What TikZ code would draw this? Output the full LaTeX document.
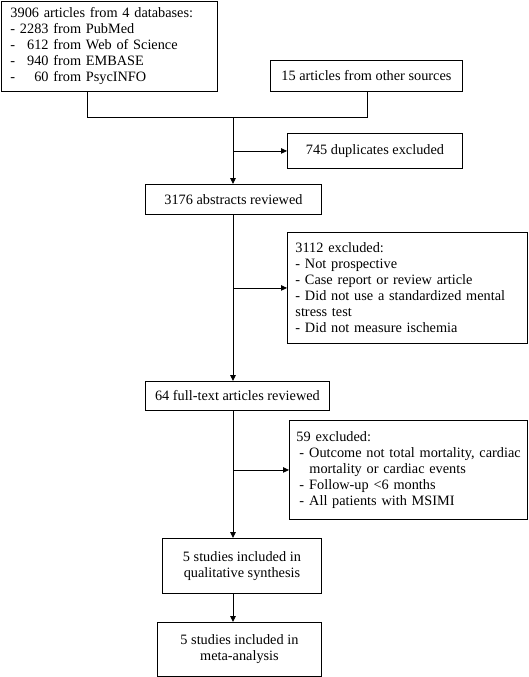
\documentclass[tikz,border=0pt]{standalone}
\usepackage{fontspec}
\setmainfont{Liberation Serif}
\usetikzlibrary{arrows.meta}
\usepackage{calc}
\newcommand{\numr}[1]{\makebox[\widthof{0000}][r]{#1}}
\begin{document}
\begin{tikzpicture}[x=1pt,y=-1pt,
  font=\fontsize{14.3}{16}\selectfont,
  box/.style={draw, line width=0.9pt, anchor=north west, inner sep=0pt},
  lbox/.style={box, align=left},
  cbox/.style={box, align=center},
  arr/.style={line width=0.9pt, -{Triangle[length=6pt,width=5.5pt]}},
  ln/.style={line width=0.9pt}]
\useasboundingbox (0,0) rectangle (528,677);
\fill[white] (0,0) rectangle (528,677);
% boxes
\node[lbox, minimum width=216, minimum height=90, text width=198, inner xsep=9] (b1) at (1,1)
 {\mbox{3906 articles from 4 databases:}\\
  \mbox{- \numr{2283} from PubMed}\\
  \mbox{- \numr{612} from Web of Science}\\
  \mbox{- \numr{940} from EMBASE}\\
  \mbox{- \numr{60} from PsycINFO}};
\node[cbox, minimum width=192, minimum height=31] (b2) at (270,60) {15 articles from other sources};
\node[cbox, minimum width=175, minimum height=35] (b745) at (287,133) {745 duplicates excluded};
\node[cbox, minimum width=176, minimum height=30] (b3) at (145,184) {3176 abstracts reviewed};
\node[lbox, minimum width=240, minimum height=111, text width=224, inner xsep=8] (b3112) at (287,232)
 {\mbox{3112 excluded:}\\
  \mbox{- Not prospective}\\
  \mbox{- Case report or review article}\\
  \mbox{- Did not use a standardized mental}\\
  \mbox{stress test}\\
  \mbox{- Did not measure ischemia}};
\node[cbox, minimum width=184, minimum height=29] (b64) at (145,381) {64 full-text articles reviewed};
\node[lbox, minimum width=238, minimum height=99, text width=226, inner xsep=6] (b59) at (289,420)
 {\mbox{\hspace*{1pt}59 excluded:}\\
  \mbox{\hspace*{4pt}-\hspace*{5pt}Outcome not total mortality, cardiac}\\
  \mbox{\hspace*{14pt}mortality or cardiac events}\\
  \mbox{\hspace*{4pt}-\hspace*{5pt}Follow-up <6 months}\\
  \mbox{\hspace*{4pt}-\hspace*{5pt}All patients with MSIMI}};
\node[cbox, minimum width=159, minimum height=55] (b5q) at (162,538) {5 studies included in\\qualitative synthesis};
\node[cbox, minimum width=164, minimum height=54] (b5m) at (157,622) {5 studies included in\\meta-analysis};
% junctions
\coordinate (j1) at (87,117);
\coordinate (j2) at (367,117);
\coordinate (jc) at (233,117);
% connectors
\draw[ln] (b1.south -| j1) -- (j1) -- (j2) -- (b2.south -| j2);
\draw[arr] (jc) -- (b3.north -| jc);
\draw[arr] (b745.west -| jc) -- (b745.west);
\draw[arr] (b3.south -| jc) -- (b64.north -| jc);
\draw[arr] (b3112.west -| jc) -- (b3112.west);
\draw[arr] (b64.south -| jc) -- (b5q.north -| jc);
\draw[arr] (b59.west -| jc) -- (b59.west);
\draw[arr] (b5q.south -| jc) -- (b5m.north -| jc);
\end{tikzpicture}
\end{document}
